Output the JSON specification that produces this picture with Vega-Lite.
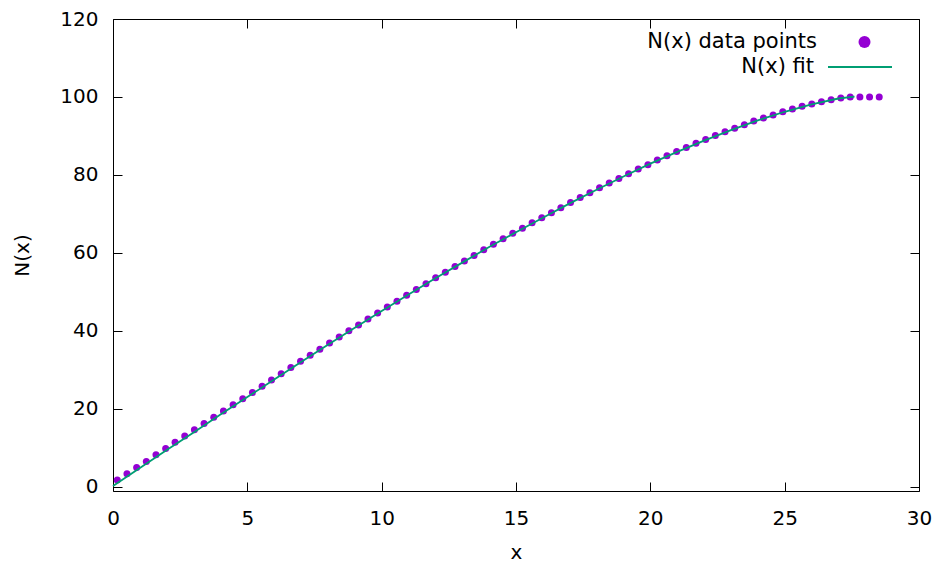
{
  "$schema": "https://vega.github.io/schema/vega-lite/v6.json",
  "width": 806,
  "height": 472,
  "autosize": {"type": "none"},
  "padding": {"left": 113, "top": 19, "right": 21, "bottom": 77},
  "background": "white",
  "config": {
    "view": {"stroke": "black", "strokeWidth": 1},
    "font": "DejaVu Sans",
    "axis": {
      "grid": false,
      "domain": false,
      "tickColor": "black",
      "tickSize": -9,
      "tickWidth": 1,
      "labelFlush": false,
      "labelFont": "DejaVu Sans",
      "labelFontSize": 20,
      "labelColor": "black",
      "titleFont": "DejaVu Sans",
      "titleFontSize": 20,
      "titleFontWeight": "normal",
      "titleColor": "black"
    },
    "legend": {
      "labelFont": "DejaVu Sans",
      "labelFontSize": 21,
      "labelColor": "black",
      "labelLimit": 500,
      "padding": 0,
      "orient": "none"
    }
  },
  "datasets": {
    "points": [
      {"x": 0.16, "y": 1.7}, {"x": 0.52, "y": 3.3}, {"x": 0.88, "y": 4.9}, {"x": 1.24, "y": 6.5},
      {"x": 1.60, "y": 8.2}, {"x": 1.96, "y": 9.8}, {"x": 2.31, "y": 11.4}, {"x": 2.67, "y": 13.0},
      {"x": 3.03, "y": 14.6}, {"x": 3.39, "y": 16.2}, {"x": 3.75, "y": 17.8}, {"x": 4.11, "y": 19.4},
      {"x": 4.47, "y": 21.0}, {"x": 4.83, "y": 22.6}, {"x": 5.19, "y": 24.2}, {"x": 5.55, "y": 25.8},
      {"x": 5.90, "y": 27.4}, {"x": 6.26, "y": 29.0}, {"x": 6.62, "y": 30.6}, {"x": 6.98, "y": 32.2},
      {"x": 7.34, "y": 33.7}, {"x": 7.70, "y": 35.3}, {"x": 8.06, "y": 36.9}, {"x": 8.42, "y": 38.4},
      {"x": 8.78, "y": 40.0}, {"x": 9.14, "y": 41.5}, {"x": 9.49, "y": 43.0}, {"x": 9.85, "y": 44.6},
      {"x": 10.21, "y": 46.1}, {"x": 10.57, "y": 47.6}, {"x": 10.93, "y": 49.1}, {"x": 11.29, "y": 50.6},
      {"x": 11.65, "y": 52.1}, {"x": 12.01, "y": 53.6}, {"x": 12.37, "y": 55.0}, {"x": 12.73, "y": 56.5},
      {"x": 13.08, "y": 57.9}, {"x": 13.44, "y": 59.3}, {"x": 13.80, "y": 60.8}, {"x": 14.16, "y": 62.2},
      {"x": 14.52, "y": 63.6}, {"x": 14.88, "y": 65.0}, {"x": 15.24, "y": 66.3}, {"x": 15.60, "y": 67.7},
      {"x": 15.96, "y": 69.0}, {"x": 16.32, "y": 70.3}, {"x": 16.67, "y": 71.6}, {"x": 17.03, "y": 72.9},
      {"x": 17.39, "y": 74.2}, {"x": 17.75, "y": 75.4}, {"x": 18.11, "y": 76.7}, {"x": 18.47, "y": 77.9},
      {"x": 18.83, "y": 79.1}, {"x": 19.19, "y": 80.3}, {"x": 19.55, "y": 81.5}, {"x": 19.91, "y": 82.6},
      {"x": 20.26, "y": 83.8}, {"x": 20.62, "y": 84.9}, {"x": 20.98, "y": 86.0}, {"x": 21.34, "y": 87.0},
      {"x": 21.70, "y": 88.1}, {"x": 22.06, "y": 89.1}, {"x": 22.42, "y": 90.1}, {"x": 22.78, "y": 91.1},
      {"x": 23.14, "y": 92.0}, {"x": 23.50, "y": 92.9}, {"x": 23.85, "y": 93.8}, {"x": 24.21, "y": 94.6},
      {"x": 24.57, "y": 95.4}, {"x": 24.93, "y": 96.2}, {"x": 25.29, "y": 96.9}, {"x": 25.65, "y": 97.6},
      {"x": 26.01, "y": 98.2}, {"x": 26.37, "y": 98.8}, {"x": 26.73, "y": 99.3}, {"x": 27.09, "y": 99.7},
      {"x": 27.44, "y": 100.0}, {"x": 27.80, "y": 100.0}, {"x": 28.16, "y": 100.0}, {"x": 28.52, "y": 100.0}
    ],
    "fit": [
      {"x": 0, "y": 0.2}, {"x": 1, "y": 4.8}, {"x": 2, "y": 9.4}, {"x": 3, "y": 13.9},
      {"x": 4, "y": 18.5}, {"x": 5, "y": 23.0}, {"x": 6, "y": 27.5}, {"x": 7, "y": 32.0},
      {"x": 8, "y": 36.4}, {"x": 9, "y": 40.8}, {"x": 10, "y": 45.1}, {"x": 11, "y": 49.3},
      {"x": 12, "y": 53.5}, {"x": 13, "y": 57.5}, {"x": 14, "y": 61.5}, {"x": 15, "y": 65.3},
      {"x": 16, "y": 69.0}, {"x": 17, "y": 72.7}, {"x": 18, "y": 76.2}, {"x": 19, "y": 79.6},
      {"x": 20, "y": 82.9}, {"x": 21, "y": 85.9}, {"x": 22, "y": 88.8}, {"x": 23, "y": 91.5},
      {"x": 24, "y": 94.0}, {"x": 25, "y": 96.2}, {"x": 26, "y": 98.1}, {"x": 27, "y": 99.6},
      {"x": 27.6, "y": 100.1}
    ]
  },
  "layer": [
    {
      "data": {"name": "points"},
      "transform": [{"calculate": "'N(x) data points'", "as": "series"}],
      "mark": {"type": "point", "filled": true, "size": 49, "opacity": 1, "strokeWidth": 0},
      "encoding": {
        "x": {"field": "x", "type": "quantitative", "scale": {"domain": [0, 30], "nice": false, "zero": false},
              "axis": {"orient": "top", "labels": false, "title": null, "values": [0, 5, 10, 15, 20, 25, 30]}},
        "y": {"field": "y", "type": "quantitative", "scale": {"domain": [-1.1, 120], "nice": false, "zero": false},
              "axis": {"orient": "right", "labels": false, "title": null, "values": [0, 20, 40, 60, 80, 100, 120]}},
        "fill": {"field": "series", "type": "nominal",
                 "scale": {"domain": ["N(x) data points"], "range": ["#9400d3"]},
                 "legend": {"title": null, "legendX": 741, "legendY": 12.5, "symbolType": "circle", "symbolSize": 144,
                            "symbolStrokeWidth": 0, "labelAlign": "right", "labelOffset": -58}}
      }
    },
    {
      "data": {"name": "fit"},
      "transform": [{"calculate": "'N(x) fit'", "as": "series"}],
      "mark": {"type": "line", "strokeWidth": 1.8},
      "encoding": {
        "x": {"field": "x", "type": "quantitative", "scale": {"domain": [0, 30], "nice": false, "zero": false},
              "axis": {"orient": "bottom", "title": "x", "values": [0, 5, 10, 15, 20, 25, 30], "labelPadding": 26, "titlePadding": 14}},
        "y": {"field": "y", "type": "quantitative", "scale": {"domain": [-1.1, 120], "nice": false, "zero": false},
              "axis": {"orient": "left", "title": "N(x)", "values": [0, 20, 40, 60, 80, 100, 120], "labelPadding": 24, "titlePadding": 27}},
        "stroke": {"field": "series", "type": "nominal",
                   "scale": {"domain": ["N(x) fit"], "range": ["#009e73"]},
                   "legend": {"title": null, "legendX": 714, "legendY": 15, "symbolType": "stroke", "symbolSize": 4096,
                              "symbolStrokeWidth": 2, "labelAlign": "right", "labelOffset": -79}}
      }
    }
  ],
  "resolve": {"axis": {"x": "independent", "y": "independent"}}
}
